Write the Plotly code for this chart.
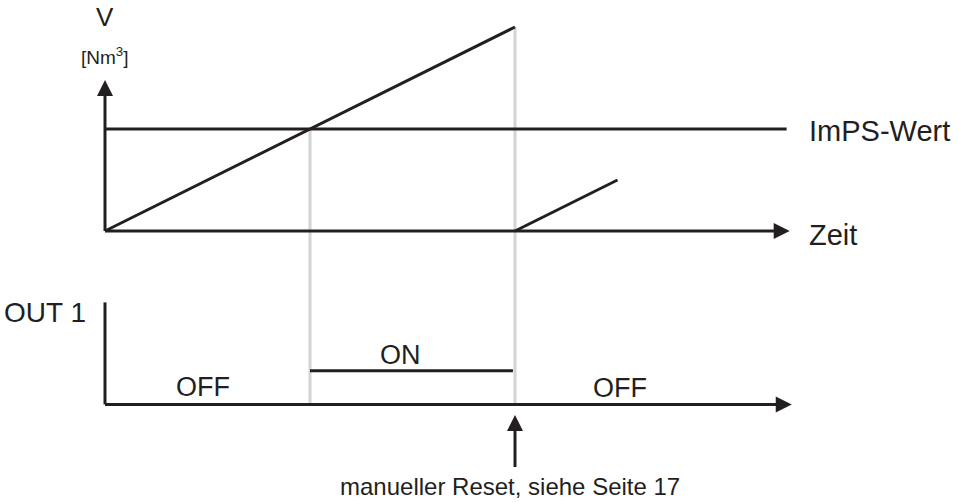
import plotly.graph_objects as go

# ---- diagram data (time units, volume units) ----
ramp1_t = [0, 4]
ramp1_v = [0, 2]
ramp2_t = [4, 5]
ramp2_v = [0, 0.5]
imps_t = [0, 6.65]
imps_v = [1, 1]
time_axis_end = 6.68
v_axis_top = 1.48
switch_times = [2, 4]          # threshold reached, manual reset
switch_tops = [1, 2]           # where the gray guide lines start
out_base = -1.70               # baseline of OUT 1 track
out_on_height = 0.33           # ON level above baseline
out_axis_height = 1.0
out_axis_end = 6.70
out_on_t = [2, 3.98]
reset_arrow_v = [-2.314, -1.804]

BLACK = "#231f20"
GRAY = "#d2d3d5"
FONT = "Liberation Sans, Arial, Helvetica, sans-serif"

fig = go.Figure()

def seg(x, y, color=BLACK, width=3):
    fig.add_trace(go.Scatter(x=x, y=y, mode="lines",
                             line=dict(color=color, width=width),
                             hoverinfo="skip", showlegend=False))

def head(x, y, symbol, size=15):
    fig.add_trace(go.Scatter(x=[x], y=[y], mode="markers",
                             marker=dict(symbol=symbol, size=size, color=BLACK,
                                         line=dict(width=0)),
                             hoverinfo="skip", showlegend=False))

# gray guides
for t, top in zip(switch_times, switch_tops):
    seg([t, t], [top, out_base], color=GRAY, width=3)

# upper diagram
seg([0, 0], [0, v_axis_top - 0.1])
head(0, v_axis_top, "arrow-up", 16)
seg([0, time_axis_end - 0.1], [0, 0])
head(time_axis_end, 0, "arrow-right", 16)
seg(imps_t, imps_v)
seg(ramp1_t, ramp1_v)
seg(ramp2_t, ramp2_v)

# lower diagram
seg([0, 0], [out_base, out_base + out_axis_height])
seg([0, out_axis_end - 0.1], [out_base, out_base])
head(out_axis_end, out_base, "arrow-right", 16)
seg(out_on_t, [out_base + out_on_height] * 2)

# reset arrow
seg([switch_times[1]] * 2, [reset_arrow_v[0], reset_arrow_v[1] - 0.1])
head(switch_times[1], reset_arrow_v[1], "arrow-up", 16)

def label(t, v, text, size=27, xanchor="center"):
    fig.add_annotation(x=t, y=v, xref="x", yref="y", text=text, showarrow=False,
                       xanchor=xanchor, yanchor="middle",
                       font=dict(family=FONT, size=size, color=BLACK))

label(0, 2.10, "V", 26)
label(0, 1.72, "[Nm<sup>3</sup>]", 19)
label(6.85, 0.98, "ImPS-Wert", 29, "left")
label(6.85, -0.04, "Zeit", 29, "left")
label(-0.585, -0.80, "OUT 1", 28)
label(2.88, -1.22, "ON", 27)
label(0.956, -1.53, "OFF", 27)
label(5.02, -1.54, "OFF", 27)
label(3.95, -2.50, "manueller Reset, siehe Seite 17", 24)

fig.update_layout(
    width=959, height=502,
    margin=dict(l=0, r=0, t=0, b=0),
    paper_bgcolor="white", plot_bgcolor="white",
    xaxis=dict(range=[-105 / 102.5, (959 - 105) / 102.5], visible=False, fixedrange=True),
    yaxis=dict(range=[(231 - 502) / 102, 231 / 102], visible=False, fixedrange=True),
)

fig.write_html("out.html", config={"displayModeBar": False},
               post_script="document.body.style.margin='0';document.body.style.overflow='hidden';")
